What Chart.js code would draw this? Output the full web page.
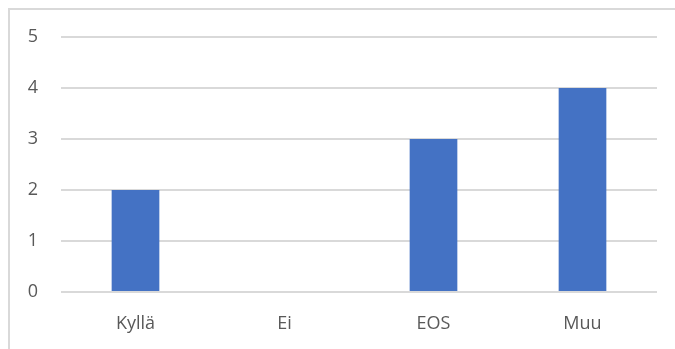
<!DOCTYPE html>
<html>
<head>
    <meta charset="utf-8"/>
    <title>Vastaukset</title>
    <script src="https://cdn.jsdelivr.net/npm/chart.js@4"></script>
    <style>
        html, body { margin: 0; padding: 0; background: #fff; overflow: hidden; }
        .frame {
            position: absolute; left: 8px; top: 8px;
            width: 720px; height: 400px;
            border: 2px solid #d9d9d9;
        }
        .chart-container { position: absolute; left: 0; top: 0; width: 675px; height: 349px; }
    </style>
</head>
<body>
    <div class="frame"></div>
    <div class="chart-container">
        <canvas id="answerChart"></canvas>
    </div>
    <script>
        const categories = ['Kyllä', 'Ei', 'EOS', 'Muu'];
        const answerCounts = [2, 0, 3, 4];
        const yTicks = [0, 1, 2, 3, 4, 5];

        const textColor = '#595959';
        const gridColor = '#d9d9d9';

        const dataAnswers = {
            labels: categories,
            datasets: [{
                data: answerCounts,
                backgroundColor: '#4472C4',
                borderWidth: 0,
                barPercentage: 1,
                categoryPercentage: 0.32
            }]
        };

        const configAnswers = {
            type: 'bar',
            data: dataAnswers,
            options: {
                responsive: true,
                maintainAspectRatio: false,
                animation: false,
                layout: { padding: { top: 37, right: 18, bottom: 0, left: 0 } },
                plugins: { legend: { display: false }, tooltip: { enabled: false } },
                scales: {
                    x: {
                        grid: { display: false, drawTicks: false },
                        border: { display: false },
                        ticks: {
                            color: textColor,
                            padding: 21,
                            font: { family: 'Open Sans', size: 18 }
                        },
                        afterFit: function (axis) { axis.height = 57; }
                    },
                    y: {
                        min: 0,
                        max: 5,
                        afterBuildTicks: function (axis) {
                            axis.ticks = yTicks.map(v => ({ value: v }));
                        },
                        grid: { color: gridColor, lineWidth: 2, drawTicks: false },
                        border: { display: false },
                        ticks: {
                            color: textColor,
                            padding: 23,
                            font: { family: 'Open Sans', size: 18 }
                        },
                        afterFit: function (axis) { axis.width = 61; }
                    }
                }
            }
        };

        const answerChart = new Chart(
            document.getElementById('answerChart'),
            configAnswers
        );
    </script>
</body>
</html>
